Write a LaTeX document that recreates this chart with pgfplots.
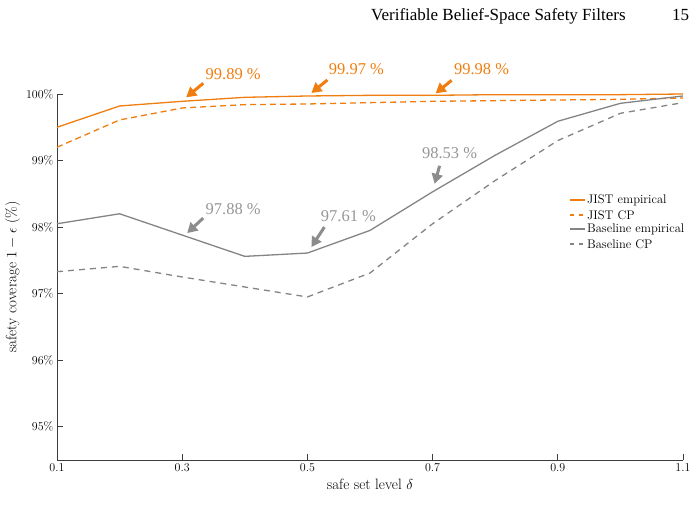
\documentclass[border=0pt]{standalone}
\usepackage{fontspec}
\usepackage{pgfplots}
\pgfplotsset{compat=1.18}
\usepackage{pgfplotstable}
\usetikzlibrary{arrows.meta,calc}
\newfontfamily\timesfont{Liberation Serif}

\definecolor{jorange}{RGB}{240,125,15}
\definecolor{bgray}{RGB}{132,132,132}
\definecolor{agray}{RGB}{140,140,140}
\definecolor{tgray}{RGB}{150,150,150}
\definecolor{axgray}{RGB}{60,60,60}

% safety coverage (%) against safe set level delta
\pgfplotstableread{
delta jemp jcp bemp bcp
0.1 99.50 99.20 98.05 97.33
0.2 99.82 99.61 98.20 97.41
0.3 99.89 99.79 97.88 97.25
0.4 99.95 99.84 97.56 97.10
0.5 99.97 99.85 97.61 96.95
0.6 99.98 99.87 97.95 97.31
0.7 99.98 99.89 98.53 98.05
0.8 99.99 99.90 99.08 98.70
0.9 99.99 99.91 99.59 99.30
1.0 99.99 99.92 99.86 99.71
1.1 100.00 99.94 99.97 99.87
}\coverage

\tikzset{
  jemp/.style={color=jorange,line width=1.3pt,solid},
  jcp/.style={color=jorange,line width=1.3pt,dash pattern=on 6pt off 4pt},
  bemp/.style={color=bgray,line width=1.3pt,solid},
  bcp/.style={color=bgray,line width=1.3pt,dash pattern=on 6pt off 5pt},
  legsample/.style={line width=1.6pt},
  legdash/.style={dash pattern=on 4pt off 5pt},
  legtext/.style={anchor=west,inner sep=0pt,font=\fontsize{12.5}{14}\selectfont},
  annarrow/.style={line width=3pt,color=#1,-{Triangle[length=10pt,width=11pt]}},
  anntext/.style={text=#1,font=\timesfont\fontsize{16.5}{18}\selectfont,inner sep=0pt},
}

\begin{document}
\begin{tikzpicture}
\useasboundingbox (-57pt,-59pt) rectangle (641pt,460pt);

% running head
\node[anchor=base west,inner sep=0pt,font=\timesfont\fontsize{17}{20}\selectfont]
  at (314pt,439pt) {Verifiable Belief-Space Safety Filters};
\node[anchor=base west,inner sep=0pt,font=\timesfont\fontsize{17}{20}\selectfont]
  at (615pt,439pt) {15};

\begin{axis}[
  at={(0pt,0pt)}, anchor=south west,
  scale only axis, width=626pt, height=366pt,
  xmin=0.1, xmax=1.1, ymin=94.5, ymax=100,
  clip=false,
  axis lines*=left,
  axis line style={color=axgray,line width=0.9pt},
  tick style={color=axgray,line width=0.9pt},
  major tick length=6pt,
  tick align=inside,
  xtick={0.1,0.3,0.5,0.7,0.9,1.1},
  xticklabels={0.1,0.3,0.5,0.7,0.9,1.1},
  ytick={95,96,97,98,99,100},
  yticklabel={$\pgfmathprintnumber{\tick}\%$},
  ticklabel style={font=\fontsize{12}{14}\selectfont},
  xlabel={safe set level $\delta$},
  ylabel={safety coverage $1-\epsilon$ (\%)},
  label style={font=\fontsize{15}{18}\selectfont},
  ylabel style={yshift=-1pt},
]
\addplot[jemp] table[x=delta,y=jemp] {\coverage};
\addplot[jcp]  table[x=delta,y=jcp]  {\coverage};
\addplot[bemp] table[x=delta,y=bemp] {\coverage};
\addplot[bcp]  table[x=delta,y=bcp]  {\coverage};

% value call-outs on the empirical curves
\draw[annarrow=jorange] ($(axis cs:0.3,99.89)+(21pt,18pt)$) -- ($(axis cs:0.3,99.89)+(4pt,4pt)$);
\node[anntext=jorange] at ($(axis cs:0.3,99.89)+(51pt,27pt)$) {99.89 \%};
\draw[annarrow=jorange] ($(axis cs:0.5,99.97)+(20pt,16pt)$) -- ($(axis cs:0.5,99.97)+(4pt,3pt)$);
\node[anntext=jorange] at ($(axis cs:0.5,99.97)+(49pt,27pt)$) {99.97 \%};
\draw[annarrow=jorange] ($(axis cs:0.7,99.98)+(19pt,15pt)$) -- ($(axis cs:0.7,99.98)+(3pt,2pt)$);
\node[anntext=jorange] at ($(axis cs:0.7,99.98)+(49pt,26pt)$) {99.98 \%};

\draw[annarrow=agray] ($(axis cs:0.3,97.88)+(21pt,17pt)$) -- ($(axis cs:0.3,97.88)+(5pt,2pt)$);
\node[anntext=tgray] at ($(axis cs:0.3,97.88)+(51pt,26pt)$) {97.88 \%};
\draw[annarrow=agray] ($(axis cs:0.5,97.61)+(17pt,26pt)$) -- ($(axis cs:0.5,97.61)+(4pt,6pt)$);
\node[anntext=tgray] at ($(axis cs:0.5,97.61)+(41pt,37pt)$) {97.61 \%};
\draw[annarrow=agray] ($(axis cs:0.7,98.53)+(7pt,26pt)$) -- ($(axis cs:0.7,98.53)+(2pt,8pt)$);
\node[anntext=tgray] at ($(axis cs:0.7,98.53)+(17pt,39pt)$) {98.53 \%};
\end{axis}

% legend, right of the curves (axis box has its lower left corner at the origin)
\begin{scope}[shift={(513pt,260pt)}]
  \draw[jemp,legsample] (0pt,0pt) -- (15pt,0pt);
  \node[legtext] at (17pt,0pt) {JIST empirical};
  \draw[jcp,legsample,legdash] (0pt,-15pt) -- (15pt,-15pt);
  \node[legtext] at (17pt,-15pt) {JIST CP};
  \draw[bemp,legsample] (0pt,-29pt) -- (15pt,-29pt);
  \node[legtext] at (17pt,-29pt) {Baseline empirical};
  \draw[bcp,legsample,legdash] (0pt,-44pt) -- (15pt,-44pt);
  \node[legtext] at (17pt,-44pt) {Baseline CP};
\end{scope}
\end{tikzpicture}
\end{document}
